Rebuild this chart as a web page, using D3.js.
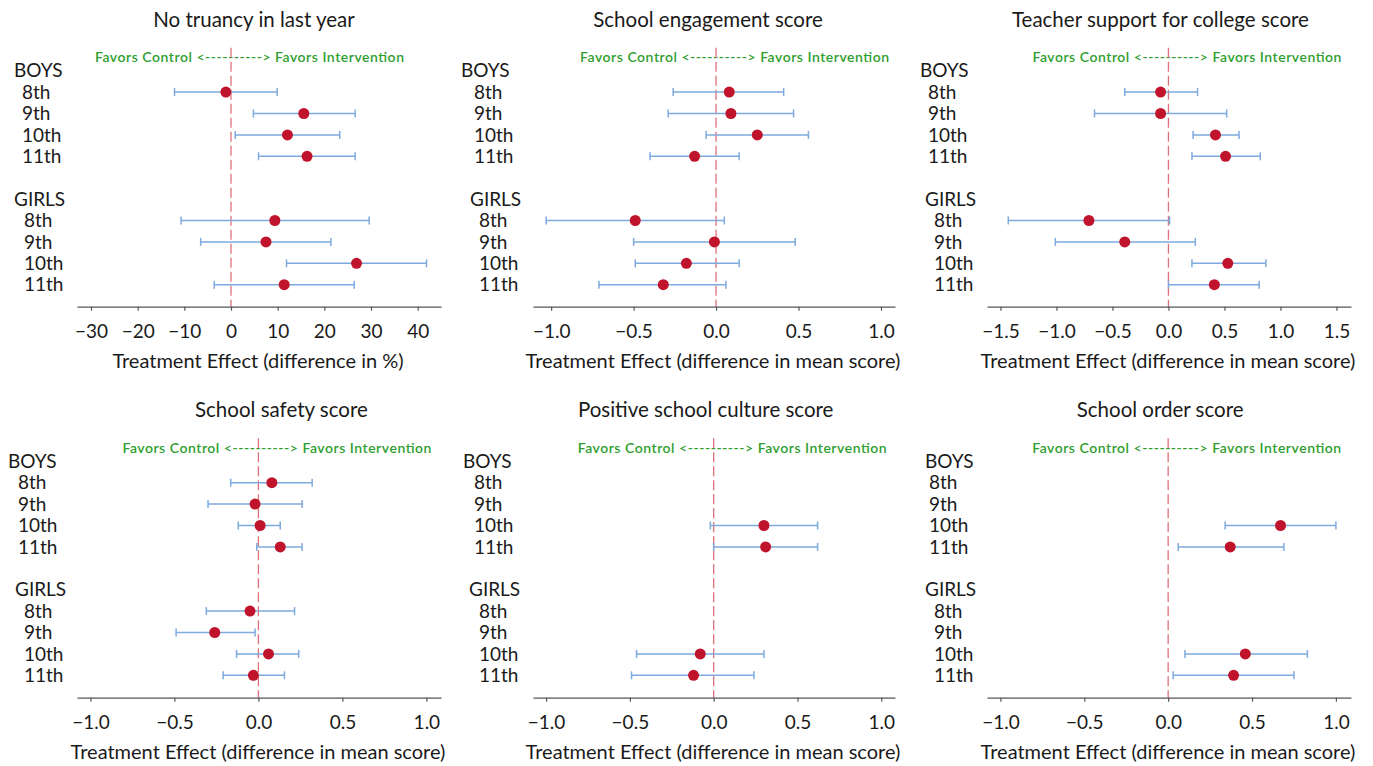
<!DOCTYPE html>
<html>
<head>
<meta charset="utf-8">
<script src="https://cdn.jsdelivr.net/npm/d3@7"></script>
<style>
  body { margin: 0; background: #fff; }
  svg text { font-family: Lato, "Open Sans", sans-serif; fill: #1a1a1a; }
  .favors { fill: #2f9e2f; font-size: 14px; font-weight: 600; }
  .ptitle { font-size: 20.5px; }
  .rowlab { font-size: 19px; }
  .axtitle { font-size: 20px; }
  .xaxis text { font-size: 19px; fill: #1a1a1a; }
  .xaxis path, .xaxis line { stroke: #555; stroke-width: 1.2; }
</style>
</head>
<body>
<svg id="chart" width="1373" height="766"></svg>
<script>
// row slots: group header, 4 grades, blank gap, group header, 4 grades
const rowLabels = ["BOYS", "8th", "9th", "10th", "11th", "", "GIRLS", "8th", "9th", "10th", "11th"];
const boysSlots = [1, 2, 3, 4];
const girlsSlots = [7, 8, 9, 10];

const panelTitles = ["No truancy in last year", "School engagement score", "Teacher support for college score",
  "School safety score", "Positive school culture score", "School order score"];
const axisTitles = ["Treatment Effect (difference in %)", "Treatment Effect (difference in mean score)",
  "Treatment Effect (difference in mean score)", "Treatment Effect (difference in mean score)",
  "Treatment Effect (difference in mean score)", "Treatment Effect (difference in mean score)"];
const favorsText = "Favors Control <----------> Favors Intervention";

// tick labels
const pctTicks = [-30, -20, -10, 0, 10, 20, 30, 40];
const scoreTicks = [-1.0, -0.5, 0.0, 0.5, 1.0];
const wideTicks = [-1.5, -1.0, -0.5, 0.0, 0.5, 1.0, 1.5];

// [estimate, lower, upper] per grade 8th..11th, null = not reported
const truancyBoys = [[-1.1, -12.1, 9.9], [15.6, 4.8, 26.6], [12.1, 0.9, 23.3], [16.3, 5.9, 26.6]];
const truancyGirls = [[9.4, -10.7, 29.6], [7.5, -6.5, 21.4], [26.9, 11.9, 41.9], [11.4, -3.6, 26.4]];
const engagementBoys = [[0.08, -0.26, 0.41], [0.09, -0.29, 0.47], [0.25, -0.06, 0.56], [-0.13, -0.40, 0.14]];
const engagementGirls = [[-0.49, -1.03, 0.05], [-0.01, -0.50, 0.48], [-0.18, -0.49, 0.14], [-0.32, -0.71, 0.06]];
const teacherBoys = [[-0.07, -0.39, 0.26], [-0.07, -0.66, 0.52], [0.42, 0.22, 0.63], [0.51, 0.21, 0.82]];
const teacherGirls = [[-0.71, -1.43, 0.01], [-0.39, -1.01, 0.24], [0.53, 0.21, 0.87], [0.41, 0.0, 0.81]];
const safetyBoys = [[0.08, -0.165, 0.32], [-0.02, -0.30, 0.26], [0.01, -0.12, 0.13], [0.13, -0.01, 0.26]];
const safetyGirls = [[-0.05, -0.31, 0.215], [-0.26, -0.49, -0.02], [0.06, -0.13, 0.24], [-0.03, -0.21, 0.155]];
const cultureBoys = [null, null, [0.30, -0.02, 0.62], [0.31, 0.0, 0.62]];
const cultureGirls = [null, null, [-0.08, -0.46, 0.30], [-0.12, -0.49, 0.24]];
const orderBoys = [null, null, [0.67, 0.34, 1.0], [0.37, 0.06, 0.69]];
const orderGirls = [null, null, [0.46, 0.10, 0.83], [0.39, 0.03, 0.75]];

// layout bits
var colRanges = [[77, 441], [533, 895], [987, 1351]];
var rowTops = [70.7, 461.3];   // y of the BOYS slot
var rowStep = 21.4;
var axisY = [306.7, 697.7];

var panels = [
  { col: 0, row: 0, title: panelTitles[0], axis: axisTitles[0], boys: truancyBoys, girls: truancyGirls,
    ticks: pctTicks, domain: [-33, 45], fmt: d3.format("d"), labX: [14, 22, 14, 24] },
  { col: 1, row: 0, title: panelTitles[1], axis: axisTitles[1], boys: engagementBoys, girls: engagementGirls,
    ticks: scoreTicks, domain: [-1.11, 1.085], fmt: d3.format(".1f"), labX: [461, 474, 470, 479] },
  { col: 2, row: 0, title: panelTitles[2], axis: axisTitles[2], boys: teacherBoys, girls: teacherGirls,
    ticks: wideTicks, domain: [-1.62, 1.63], fmt: d3.format(".1f"), labX: [920, 928, 925, 934] },
  { col: 0, row: 1, title: panelTitles[3], axis: axisTitles[3], boys: safetyBoys, girls: safetyGirls,
    ticks: scoreTicks, domain: [-1.08, 1.087], fmt: d3.format(".1f"), labX: [8, 18, 15, 24] },
  { col: 1, row: 1, title: panelTitles[4], axis: axisTitles[4], boys: cultureBoys, girls: cultureGirls,
    ticks: scoreTicks, domain: [-1.078, 1.082], fmt: d3.format(".1f"), labX: [463, 474, 469, 479] },
  { col: 2, row: 1, title: panelTitles[5], axis: axisTitles[5], boys: orderBoys, girls: orderGirls,
    ticks: scoreTicks, domain: [-1.08, 1.09], fmt: d3.format(".1f"), labX: [925, 929, 925, 934] }
];

var svg = d3.select("#chart");

panels.forEach(drawPanel);

function drawPanel(p) {
  var g = svg.append("g");
  var range = colRanges[p.col];
  var top = rowTops[p.row];
  var ay = axisY[p.row];

  var x = d3.scaleLinear().domain(p.domain).range(range);
  var y = d3.scalePoint().domain(d3.range(rowLabels.length))
    .range([top, top + rowStep * (rowLabels.length - 1)]);
  var x0 = x(0);

  //title
  g.append("text")
    .attr("class", "ptitle")
    .attr("x", x0 + (p.col == 0 ? 23 : -8))
    .attr("y", top - 44)
    .attr("text-anchor", "middle")
    .text(p.title);

  //favors control / intervention note
  g.append("text")
    .attr("class", "favors")
    .attr("x", x0 + 18.5)
    .attr("y", top - 8.5)
    .attr("text-anchor", "middle")
    .attr("textLength", 309)
    .text(favorsText);

  //zero line
  g.append("line")
    .attr("x1", x0).attr("x2", x0)
    .attr("y1", top - 23).attr("y2", ay)
    .attr("stroke", "#e0707a")
    .attr("stroke-width", 1.3)
    .attr("stroke-dasharray", "10,4");

  //row labels
  g.selectAll(".rowlab")
    .data(rowLabels)
    .enter()
    .append("text")
    .attr("class", "rowlab")
    .attr("x", function(d, i) {
      if (i == 0) return p.labX[0];
      if (i < 5) return p.labX[1];
      if (i == 6) return p.labX[2];
      return p.labX[3];
    })
    .attr("y", function(d, i) { return y(i); })
    .attr("dy", "0.35em")
    .text(function(d) { return d; });

  //x axis
  var xAxis = d3.axisBottom(x)
    .tickValues(p.ticks)
    .tickFormat(p.fmt)
    .tickSize(4)
    .tickSizeOuter(0)
    .tickPadding(14);

  g.append("g")
    .attr("class", "xaxis")
    .attr("transform", "translate(0," + ay + ")")
    .call(xAxis);

  g.append("text")
    .attr("class", "axtitle")
    .attr("x", (range[0] + range[1]) / 2 - 1)
    .attr("y", ay + 54)
    .attr("dy", "0.35em")
    .attr("text-anchor", "middle")
    .text(p.axis);

  //estimates
  var pts = [];
  p.boys.forEach(function(d, i) { if (d) pts.push({ slot: boysSlots[i], est: d[0], lo: d[1], hi: d[2] }); });
  p.girls.forEach(function(d, i) { if (d) pts.push({ slot: girlsSlots[i], est: d[0], lo: d[1], hi: d[2] }); });

  var bars = g.selectAll(".ci")
    .data(pts)
    .enter()
    .append("g")
    .attr("class", "ci")
    .attr("stroke", "#7eaadd")
    .attr("stroke-width", 1.5);

  bars.append("line")
    .attr("x1", function(d) { return x(d.lo); })
    .attr("x2", function(d) { return x(d.hi); })
    .attr("y1", function(d) { return y(d.slot); })
    .attr("y2", function(d) { return y(d.slot); });
  bars.append("line")
    .attr("x1", function(d) { return x(d.lo); })
    .attr("x2", function(d) { return x(d.lo); })
    .attr("y1", function(d) { return y(d.slot) - 4; })
    .attr("y2", function(d) { return y(d.slot) + 4; });
  bars.append("line")
    .attr("x1", function(d) { return x(d.hi); })
    .attr("x2", function(d) { return x(d.hi); })
    .attr("y1", function(d) { return y(d.slot) - 4; })
    .attr("y2", function(d) { return y(d.slot) + 4; });

  g.selectAll(".dot")
    .data(pts)
    .enter()
    .append("circle")
    .attr("class", "dot")
    .attr("cx", function(d) { return x(d.est); })
    .attr("cy", function(d) { return y(d.slot); })
    .attr("r", 5.5)
    .attr("fill", "#c0142c");
}
</script>
</body>
</html>
